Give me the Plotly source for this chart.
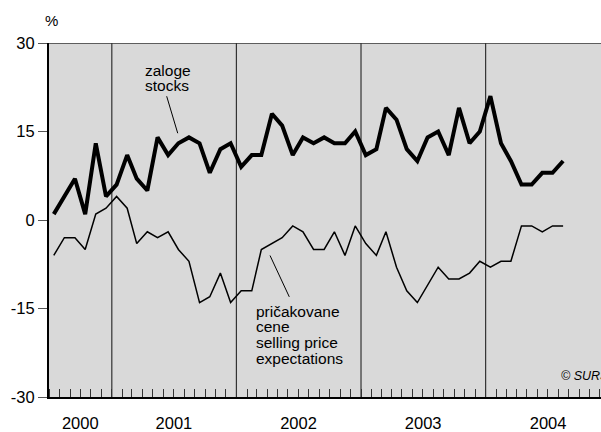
import pandas as pd
import plotly.graph_objects as go

# Monthly data, July 2000 - August 2004
months = pd.date_range("2000-07-01", periods=50, freq="MS") + pd.Timedelta(days=14)

stocks = [1, 4, 7, 1, 13, 4,
          6, 11, 7, 5, 14, 11, 13, 14, 13, 8, 12, 13,
          9, 11, 11, 18, 16, 11, 14, 13, 14, 13, 13, 15,
          11, 12, 19, 17, 12, 10, 14, 15, 11, 19, 13, 15,
          21, 13, 10, 6, 6, 8, 8, 10]

price_expectations = [-6, -3, -3, -5, 1, 2,
                      4, 2, -4, -2, -3, -2, -5, -7, -14, -13, -9, -14,
                      -12, -12, -5, -4, -3, -1, -2, -5, -5, -2, -6, -1,
                      -4, -6, -2, -8, -12, -14, -11, -8, -10, -10, -9, -7,
                      -8, -7, -7, -1, -1, -2, -1, -1]

year_labels = ["2000", "2001", "2002", "2003", "2004"]
year_label_pos = ["2000-09-30 12:00", "2001-07-02", "2002-07-02", "2003-07-02", "2004-07-02"]
year_bounds = ["2001-01-01", "2002-01-01", "2003-01-01", "2004-01-01"]
y_ticks = [-30, -15, 0, 15, 30]
y_tick_labels = ["-30", "-15", "0", "15", "30"]

FONT = "Liberation Sans, Arial, Helvetica, sans-serif"

fig = go.Figure()
fig.add_trace(go.Scatter(x=months, y=price_expectations, mode="lines",
                         line=dict(color="black", width=1.5), showlegend=False))
fig.add_trace(go.Scatter(x=months, y=stocks, mode="lines",
                         line=dict(color="black", width=4), showlegend=False))

shapes = []
for b in year_bounds:
    shapes.append(dict(type="line", xref="x", yref="y", x0=b, x1=b, y0=-30, y1=30,
                       line=dict(color="#333333", width=1.2), layer="below"))
shapes.append(dict(type="line", xref="paper", yref="y", x0=0, x1=1, y0=30, y1=30,
                   line=dict(color="#333333", width=1.5)))
# leader lines
shapes.append(dict(type="line", xref="paper", yref="paper", x0=0.2132, y0=0.8496, x1=0.2332, y1=0.7451,
                   line=dict(color="black", width=1)))
shapes.append(dict(type="line", xref="paper", yref="paper", x0=0.4004, y0=0.3997, x1=0.4353, y1=0.2829,
                   line=dict(color="black", width=1)))

annotations = []
def txt(s, x, y, size=15.5, italic=False, anchor="left"):
    annotations.append(dict(text=s, x=x, y=y, xref="paper", yref="paper", xanchor=anchor,
                            yanchor="middle", showarrow=False, borderpad=0,
                            font=dict(family=FONT, size=size, color="black",
                                      style="italic" if italic else "normal")))

txt("zaloge", 0.172, 0.9227)
txt("stocks", 0.172, 0.8787)
for s, py in zip(["pričakovane", "cene", "selling price", "expectations"],
                 [313.6, 329.1, 345.1, 360.9]):
    txt(s, 0.3723, (400 - py) / 357)
txt("© SURS", 0.9257, 0.0588, size=12.5, italic=True)
txt("%", 0.005, 1.064, size=15, anchor="center")

fig.update_layout(
    width=601, height=432,
    margin=dict(l=49, r=0, t=43, b=32),
    plot_bgcolor="#d9d9d9", paper_bgcolor="white",
    font=dict(family=FONT, size=16, color="black"),
    shapes=shapes, annotations=annotations,
    xaxis=dict(type="date", range=["2000-07-01", "2004-12-04"],
               tickvals=year_label_pos, ticktext=year_labels,
               ticks="", showgrid=False, zeroline=False,
               showline=True, linecolor="black", linewidth=2,
               ticklabelstandoff=10,
               tickfont=dict(size=16.5),
               minor=dict(ticks="inside", ticklen=8, dtick="M1", tick0="2000-01-01",
                          tickcolor="#333333", tickwidth=1, showgrid=False)),
    yaxis=dict(range=[-30, 30], tickvals=y_ticks, ticktext=y_tick_labels,
               ticks="outside", ticklen=9,
               tickcolor="#555555", tickwidth=1, showgrid=False, zeroline=False,
               showline=True, linecolor="black", linewidth=2,
               tickfont=dict(size=16.5)),
)

fig.write_html("out.html", config={"displayModeBar": False},
               post_script="document.body.style.margin='0';document.body.style.overflow='hidden';")
